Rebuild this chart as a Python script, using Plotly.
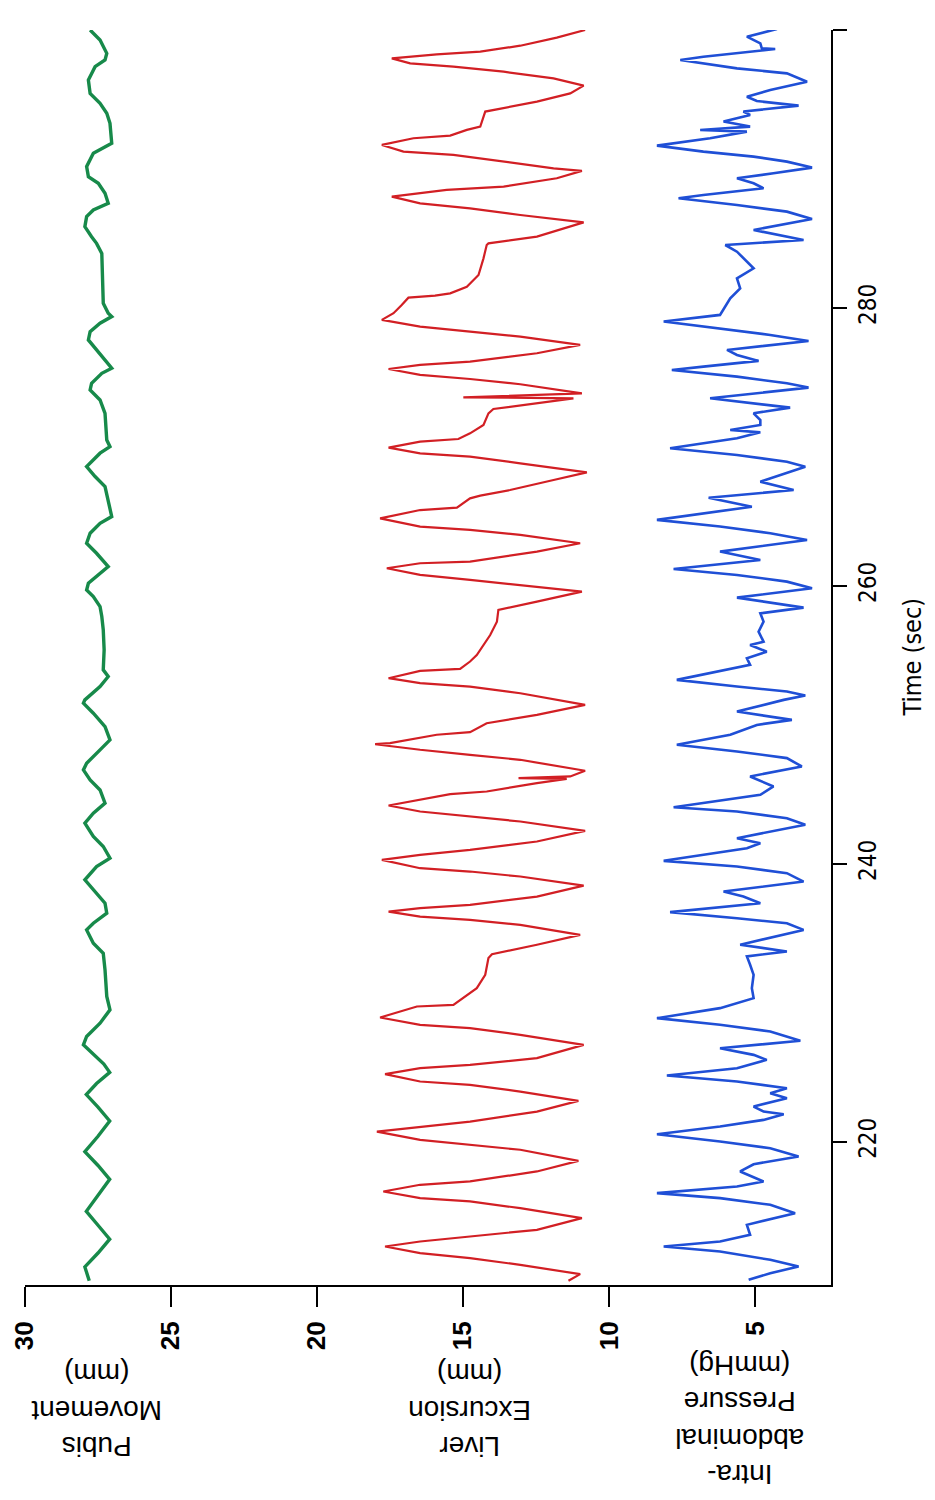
import plotly.graph_objects as go

# ---- data: (time s, value) pairs ----
liver_excursion = [
    (300.00, 10.82), (299.45, 11.79), (298.87, 13.04), (298.44, 14.41), (298.25, 15.90), (297.96, 17.44),
    (297.60, 16.81), (297.36, 15.33), (297.00, 13.61), (296.52, 11.90), (296.00, 10.87), (295.44, 11.33),
    (294.85, 12.47), (294.37, 13.61), (294.13, 14.24), (293.05, 14.41), (292.81, 14.87), (292.40, 15.44),
    (292.21, 16.70), (291.73, 17.78), (291.25, 17.04), (291.01, 15.33), (290.53, 13.61), (290.05, 11.90),
    (289.86, 10.93), (289.33, 11.79), (288.73, 13.61), (288.49, 15.56), (288.01, 17.44), (287.53, 16.47),
    (287.17, 14.76), (286.69, 13.04), (286.16, 10.87), (285.13, 12.47), (284.65, 14.13), (284.53, 14.19),
    (283.57, 14.30), (282.37, 14.47), (281.53, 14.87), (281.05, 15.44), (280.89, 15.96), (280.74, 16.87),
    (280.21, 17.10), (279.62, 17.38), (279.14, 17.78), (278.66, 16.47), (278.30, 14.76), (277.94, 13.04),
    (277.34, 10.99), (276.74, 12.47), (276.14, 14.76), (275.90, 16.47), (275.61, 17.55), (275.18, 16.47),
    (274.89, 14.76), (274.51, 13.04), (273.86, 10.93), (273.57, 14.99), (273.50, 11.22), (273.14, 12.47),
    (272.73, 13.96), (272.42, 14.13), (271.58, 14.30), (270.98, 14.76), (270.57, 15.16), (270.38, 16.47),
    (269.95, 17.55), (269.54, 16.47), (269.30, 14.76), (268.82, 13.04), (268.17, 10.76), (267.62, 11.90),
    (266.90, 13.39), (266.50, 14.41), (266.30, 14.76), (265.63, 15.21), (265.46, 16.47), (264.86, 17.84),
    (264.27, 16.47), (264.03, 14.76), (263.67, 13.04), (263.07, 10.99), (262.47, 12.47), (261.75, 14.76),
    (261.63, 16.47), (261.27, 17.61), (260.79, 16.47), (260.43, 14.76), (260.07, 13.04), (259.59, 10.93),
    (258.87, 12.47), (258.27, 13.79), (257.43, 13.84), (256.47, 14.07), (255.03, 14.53), (254.56, 14.76),
    (254.03, 15.10), (253.89, 16.47), (253.36, 17.55), (253.00, 16.47), (252.76, 14.76), (252.28, 13.04),
    (251.44, 10.82), (250.72, 12.47), (250.12, 14.19), (249.48, 14.76), (249.29, 15.90), (248.69, 17.50),
    (248.61, 18.01), (248.21, 16.47), (247.85, 14.76), (247.49, 13.04), (246.70, 10.82), (246.29, 11.33),
    (246.17, 13.10), (246.12, 11.45), (245.81, 12.47), (245.21, 14.19), (245.02, 15.44), (244.20, 17.55),
    (243.77, 16.47), (243.41, 14.76), (243.05, 13.04), (242.38, 10.82), (241.61, 12.47), (241.01, 14.76),
    (240.65, 16.47), (240.29, 17.78), (239.69, 16.47), (239.45, 14.76), (239.09, 13.04), (238.44, 10.87),
    (237.65, 12.47), (237.05, 14.76), (236.81, 16.47), (236.57, 17.55), (236.21, 16.47), (235.97, 14.76),
    (235.61, 13.04), (234.89, 10.99), (234.18, 12.47), (233.50, 14.01), (233.22, 14.13), (232.02, 14.24),
    (231.06, 14.53), (229.86, 15.33), (229.74, 16.58), (228.95, 17.84), (228.42, 16.47), (228.18, 14.76),
    (227.70, 13.04), (226.98, 10.87), (226.02, 12.47), (225.54, 14.76), (225.30, 16.47), (224.87, 17.67),
    (224.34, 16.47), (224.10, 14.76), (223.62, 13.04), (222.95, 11.05), (222.18, 12.47), (221.46, 14.76),
    (221.10, 16.47), (220.74, 17.95), (220.14, 16.47), (219.78, 14.76), (219.43, 13.04), (218.63, 11.05),
    (217.87, 12.47), (217.15, 14.76), (216.91, 16.47), (216.43, 17.73), (215.95, 16.47), (215.71, 14.76),
    (215.23, 13.04), (214.51, 10.93), (213.67, 12.47), (213.19, 14.76), (212.83, 16.47), (212.47, 17.67),
    (211.99, 16.47), (211.63, 14.76), (211.15, 13.04), (210.48, 10.99), (210.00, 11.39),
]

abdominal_pressure = [
    (300.07, 4.25), (299.52, 5.28), (299.04, 4.82), (298.68, 4.77), (298.63, 4.31), (298.08, 6.77),
    (297.84, 7.56), (297.24, 5.62), (296.88, 3.91), (296.28, 3.22), (295.68, 4.48), (295.20, 5.28),
    (294.89, 4.94), (294.56, 3.51), (294.13, 5.40), (293.89, 5.17), (293.41, 6.08), (293.05, 5.17),
    (292.81, 6.88), (292.69, 5.28), (292.21, 6.54), (291.68, 8.36), (291.25, 6.77), (290.89, 5.05),
    (290.53, 3.91), (290.10, 3.05), (289.69, 4.37), (289.33, 5.62), (288.97, 5.05), (288.61, 4.71),
    (288.13, 6.77), (287.89, 7.62), (287.41, 5.62), (286.93, 3.91), (286.40, 3.05), (285.97, 4.14),
    (285.61, 5.05), (284.89, 3.34), (284.53, 6.02), (284.05, 5.62), (283.57, 5.40), (282.85, 5.05),
    (282.13, 5.62), (281.41, 5.51), (280.69, 5.85), (279.97, 6.08), (279.50, 6.20), (279.02, 8.13),
    (278.54, 6.20), (278.06, 4.48), (277.62, 3.17), (277.34, 4.48), (276.98, 5.96), (276.62, 5.62),
    (276.19, 4.88), (275.78, 6.77), (275.54, 7.85), (275.06, 5.62), (274.58, 3.91), (274.27, 3.17),
    (273.50, 6.54), (272.83, 3.80), (272.42, 5.05), (271.94, 4.82), (271.58, 4.82), (271.22, 5.85),
    (271.05, 4.82), (270.62, 5.62), (270.19, 6.99), (269.90, 7.91), (269.42, 5.62), (268.94, 3.91),
    (268.58, 3.28), (267.50, 4.82), (266.90, 3.68), (266.35, 6.59), (265.70, 5.11), (264.75, 8.36),
    (264.27, 6.20), (263.79, 4.48), (263.31, 3.22), (262.47, 6.20), (261.87, 4.82), (261.22, 7.79),
    (260.79, 5.62), (260.31, 3.91), (259.83, 3.05), (259.16, 5.62), (258.44, 3.34), (258.03, 4.82),
    (257.43, 4.71), (256.71, 4.88), (255.99, 4.71), (255.75, 5.17), (255.27, 4.60), (254.80, 5.28),
    (254.32, 5.17), (253.72, 6.54), (253.24, 7.68), (252.76, 5.62), (252.40, 3.91), (252.12, 3.28),
    (251.80, 4.02), (250.96, 5.62), (250.36, 3.74), (250.00, 4.94), (249.29, 5.85), (248.57, 7.68),
    (248.09, 5.62), (247.61, 3.91), (247.01, 3.40), (246.29, 5.17), (245.57, 4.37), (244.97, 4.82),
    (244.08, 7.79), (243.77, 5.62), (243.29, 3.91), (242.81, 3.28), (241.85, 5.62), (241.49, 4.82),
    (241.13, 5.28), (240.22, 8.13), (239.81, 5.62), (239.33, 3.91), (238.73, 3.34), (238.01, 6.08),
    (237.65, 5.40), (237.17, 4.82), (236.53, 7.91), (236.09, 5.62), (235.73, 3.91), (235.25, 3.34),
    (234.18, 5.51), (233.70, 3.91), (233.34, 5.28), (232.74, 5.17), (232.02, 5.05), (231.06, 5.11),
    (230.34, 5.05), (229.62, 6.20), (228.90, 8.36), (228.42, 6.20), (227.94, 4.48), (227.27, 3.45),
    (226.74, 6.20), (226.26, 5.05), (225.90, 4.60), (225.30, 5.62), (224.77, 8.02), (224.34, 5.62),
    (223.86, 3.91), (223.50, 4.48), (223.14, 3.91), (222.54, 5.05), (222.18, 4.71), (221.99, 4.02),
    (221.58, 4.71), (221.10, 6.20), (220.55, 8.36), (220.02, 6.20), (219.54, 4.48), (218.95, 3.51),
    (218.39, 5.05), (217.87, 5.51), (217.15, 4.71), (216.79, 5.62), (216.31, 8.36), (215.95, 6.20),
    (215.47, 4.48), (214.87, 3.63), (214.03, 5.28), (213.31, 5.17), (212.83, 6.20), (212.47, 8.13),
    (212.11, 6.20), (211.51, 4.48), (211.03, 3.51), (210.55, 4.48), (210.07, 5.22),
]

pubis_movement = [
    (300.00, 27.77), (299.28, 27.43), (298.32, 27.20), (297.84, 27.26), (297.36, 27.60), (296.40, 27.83),
    (295.44, 27.77), (294.72, 27.43), (294.01, 27.20), (293.29, 27.09), (291.85, 27.03), (291.61, 27.26),
    (291.13, 27.66), (290.17, 27.89), (289.45, 27.83), (288.97, 27.49), (288.25, 27.26), (287.53, 27.15),
    (287.29, 27.43), (287.05, 27.66), (286.57, 27.89), (285.85, 27.95), (285.13, 27.72), (284.65, 27.55),
    (283.93, 27.37), (282.02, 27.34), (280.34, 27.32), (279.62, 27.15), (279.38, 27.03), (278.90, 27.43),
    (278.30, 27.77), (277.70, 27.83), (276.98, 27.55), (276.26, 27.26), (275.66, 27.03), (275.30, 27.37),
    (274.58, 27.72), (274.10, 27.77), (273.38, 27.43), (272.42, 27.26), (270.50, 27.20), (270.02, 27.09),
    (269.55, 27.43), (268.59, 27.89), (267.87, 27.60), (267.15, 27.26), (265.71, 27.09), (264.99, 27.03),
    (264.51, 27.43), (263.79, 27.77), (263.07, 27.89), (262.35, 27.55), (261.39, 27.15), (260.91, 27.43),
    (260.19, 27.83), (259.71, 27.89), (259.23, 27.66), (258.51, 27.43), (257.80, 27.37), (256.84, 27.32),
    (255.40, 27.29), (253.96, 27.32), (253.48, 27.15), (252.76, 27.43), (251.80, 27.95), (251.56, 28.00),
    (250.84, 27.66), (249.88, 27.26), (248.92, 27.09), (248.20, 27.43), (247.24, 27.89), (246.76, 28.00),
    (246.04, 27.77), (245.32, 27.43), (244.37, 27.26), (243.65, 27.66), (242.93, 27.95), (241.97, 27.66),
    (241.25, 27.32), (240.41, 27.09), (239.81, 27.55), (238.85, 27.95), (238.13, 27.66), (237.17, 27.26),
    (236.45, 27.20), (235.73, 27.66), (235.25, 27.89), (234.29, 27.66), (233.57, 27.32), (232.38, 27.26),
    (230.46, 27.20), (229.50, 27.09), (228.54, 27.43), (227.58, 27.89), (226.98, 28.00), (225.60, 27.30),
    (225.00, 27.10), (224.20, 27.55), (223.40, 27.90), (222.50, 27.50), (221.50, 27.10), (220.40, 27.50),
    (219.30, 27.95), (218.30, 27.50), (217.30, 27.10), (216.10, 27.50), (215.00, 27.90), (214.00, 27.50),
    (213.00, 27.10), (212.00, 27.50), (211.00, 27.95), (210.00, 27.80),
]

value_ticks = [30, 25, 20, 15, 10, 5]
time_ticks = [220, 240, 260, 280, 300]

series_labels = [
    ("Pubis<br>Movement<br>(mm)", 27.55),
    ("Liver<br>Excursion<br>(mm)", 14.76),
    ("Intra-<br>abdominal<br>Pressure<br>(mmHg)", 5.51),
]

# ---- figure ----
fig = go.Figure()
for data, color, width in [
    (pubis_movement, "#178a4a", 3.4),
    (liver_excursion, "#d21f24", 2.2),
    (abdominal_pressure, "#1f4fd6", 2.6),
]:
    t, v = zip(*data)
    fig.add_trace(go.Scatter(x=list(v), y=list(t), mode="lines",
                             line=dict(color=color, width=width), hoverinfo="skip"))

narrow = "Liberation Sans Narrow, Arial Narrow, DejaVu Sans Condensed, Liberation Sans, sans-serif"
fig.update_layout(
    width=935, height=1500,
    margin=dict(l=17, r=112, t=22, b=223, autoexpand=False),
    paper_bgcolor="white", plot_bgcolor="white",
    showlegend=False,
    xaxis=dict(
        range=[30, 2.4], tickvals=value_ticks, ticks="outside", ticklen=20, tickwidth=2,
        tickcolor="black", showline=True, linecolor="black", linewidth=2, automargin=False,
        showgrid=False, zeroline=False, tickangle=-90, ticklabelstandoff=4,
        tickfont=dict(family="Liberation Sans, Arial, sans-serif", size=26, color="black", weight="bold"),
    ),
    yaxis=dict(
        range=[209.7, 300], side="right", tickvals=time_ticks, ticks="outside", ticklen=14,
        tickwidth=2, tickcolor="black", showline=True, linecolor="black", linewidth=2,
        showgrid=False, zeroline=False, tickangle=-90, automargin=False,
        tickfont=dict(family=narrow, size=24, color="black"),
    ),
)

fig.add_annotation(text="Time (sec)", textangle=-90, xref="paper", yref="paper",
                   x=1.1005, y=0.5, xanchor="center", yanchor="middle", showarrow=False,
                   font=dict(family=narrow, size=25, color="black"))

for text, xv in series_labels:
    ypos = -0.1076 if text.count("<br>") == 3 else -0.1
    fig.add_annotation(text=text, textangle=180, xref="x", yref="paper",
                       x=xv, y=ypos, xanchor="center", yanchor="middle", showarrow=False,
                       font=dict(family="Liberation Sans, Arial, sans-serif", size=28, color="black"))

fig.write_html("out.html")
